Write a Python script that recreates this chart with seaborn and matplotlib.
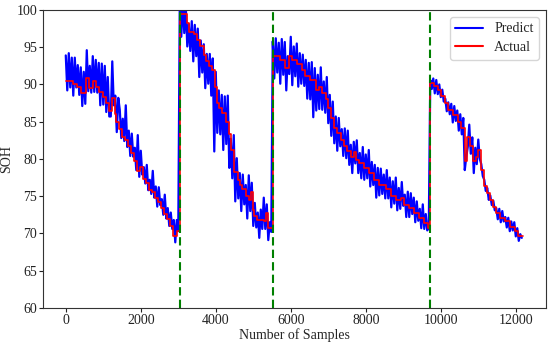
import numpy as np
import pandas as pd
import matplotlib
matplotlib.use("Agg")
import matplotlib.pyplot as plt
import seaborn as sns

# ---------------- data ----------------
segment_starts = [0, 3040, 5520, 9720]
segment_end = 12200
sample_step = 40

# actual SOH (step function): start sample of each step and its value
step_starts = [
    0, 180, 310, 400, 540, 625, 715, 805, 895, 985, 1070, 1160, 1220, 1300, 1350,
    1420, 1500, 1580, 1660, 1740, 1820, 1900, 1980, 2060, 2140, 2220, 2300, 2380,
    2460, 2540, 2620, 2700, 2780, 2860, 2960,
    3040, 3230, 3280, 3410, 3500, 3590, 3680, 3740, 3810, 3900, 3990, 4040, 4080,
    4170, 4260, 4350, 4400, 4490, 4580, 4640, 4710, 4800, 4890, 4930, 4980, 5020,
    5110, 5290, 5340, 5380,
    5520, 5720, 5850, 5940, 6030, 6170, 6300, 6390, 6520, 6660, 6750, 6820, 6930,
    7000, 7060, 7150, 7240, 7330, 7420, 7510, 7600, 7690, 7730, 7820, 7950, 8090,
    8220, 8360, 8530, 8670, 8800, 8940, 9030, 9160, 9290, 9430, 9560, 9650,
    9720, 9830, 9920, 10010, 10100, 10190, 10320, 10460, 10550, 10640, 10700,
    10790, 10860, 10950, 10990, 11080, 11140, 11220, 11300, 11390, 11480, 11570,
    11710, 11840, 11980, 12060,
]
step_values = [
    90.4, 90.0, 89.6, 88.9, 90.9, 89.5, 90.5, 89.7, 89.0, 88.3, 87.5, 86.5, 88.2, 86.0, 85.0,
    84.0, 83.0, 82.6, 81.8, 80.8, 79.7, 78.4, 78.9, 77.3, 76.8, 75.8, 75.6, 74.8,
    74.2, 73.4, 72.6, 72.0, 71.0, 69.6, 70.3,
    99.4, 98.3, 97.1, 96.8, 96.0, 95.1, 94.0, 93.1, 92.5, 92.0, 89.7, 87.5, 86.8,
    86.2, 85.0, 83.3, 81.2, 78.3, 77.2, 76.5, 75.9, 75.0, 74.5, 75.6, 73.2, 72.3,
    71.8, 71.6, 72.7, 70.7,
    93.8, 93.3, 92.2, 93.8, 93.3, 92.7, 92.0, 91.1, 90.6, 89.3, 89.7, 88.8, 88.0,
    86.8, 85.5, 84.1, 83.5, 82.6, 81.7, 81.0, 80.3, 80.9, 79.9, 79.4, 78.8, 78.1,
    77.2, 76.5, 75.9, 75.0, 74.5, 74.7, 73.8, 73.4, 72.7, 72.1, 71.4, 70.7,
    90.2, 89.8, 89.3, 88.4, 87.5, 86.6, 85.9, 85.0, 84.1, 79.7, 83.0,
    81.7, 79.7, 80.3, 81.2, 78.5, 76.3, 75.4, 74.5, 73.6, 72.7, 72.1,
    71.6, 70.9, 70.3, 69.6,
]

# prediction minus actual, read every 40 samples, per battery segment
residual_seg1 = [
    3.5, -1.2, 3.8, -0.8, 3.2, -1.5, 3.6, -0.4, 3.0, -1.0,
    3.4, -1.8, 2.8, -1.5, 3.7, -1.8, 3.0, -0.6, 3.3,
    -1.5, 2.8, -0.8, 3.2, -1.8, 3.8, -1.0, 4.2, -1.2, 3.5, -0.8,
    -0.8, 4.9, -1.0, 2.5, -1.4, 3.2, 2.6,
    -1.2, 2.4, -0.6, 4.6, -1.0, 2.0, -1.4, 2.6, -0.5, 1.8, -1.2, 4.8, -0.8, 2.2,
    -1.0, 1.6, -0.6, 2.4, -1.0, 1.4, -0.5, 2.8, -0.8, 1.5, -1.2, 2.0, -0.4, 1.2,
    -0.9, 2.6, -0.6, 1.4, -1.0, 1.8, -0.4, 2.2, -0.8, 1.5, 0.0,
]
residual_seg2 = [
    1.5, -3.0, 1.8, -2.5, 1.2, -3.2, 1.0, -2.6, 1.4,
    -4.0, 1.2, -3.0, 1.5, -5.0, 0.8, -3.5, 1.4, -4.5, 1.0, -3.0, 1.6, -4.0,
    1.5, -11.0, 2.0, -4.0, 2.4, -3.5, 1.8, -5.0, 2.2, -3.0, 3.5, -4.5, 1.5, -3.8, 2.0, -4.0, 1.8,
    -2.5, 1.6, -3.5, 2.0, -2.0, 1.5, -3.0, 2.8, -1.5, 1.2, -2.2, 1.8, -1.5, 1.0,
    -2.4, 1.4, -1.2, 3.0, -1.0, 1.2, -1.6, 0.8, -0.5,
]
residual_seg3 = [
    2.0, -3.0, 2.4, -2.2, 1.8, -3.2, 2.8, -2.0, 2.4, -3.0, 1.6, -2.4, 2.6, -3.4,
    1.8, -2.2, 2.2, -3.0, 1.5, -2.6, 2.0, -2.2,
    2.2, -3.0, 1.8, -2.6, 2.4, -5.0, 1.6, -2.8, 2.0, -3.0, 2.6, -2.2, 1.6, -2.6,
    3.0, -2.0, 1.8, -2.4,
    2.2, -2.0, 1.6, -2.4, 2.0, -1.8, 1.4, -2.2, 2.4, -1.6, 2.8, -1.8, 1.6, -2.2,
    2.0, -1.5, 2.6, -1.8, 1.4, -2.0, 2.2, -1.6, 1.8, -1.4, 2.4, -1.8, 1.5,
    -1.6, 2.0, -2.4, 1.6, -1.4, 2.2, -1.2, 1.4, -1.8, 2.6, -1.2, 1.6, -1.5, 2.0,
    -1.0, 3.0, -1.4, 1.6, -1.2, 2.2, -1.0, 1.4, -1.6, 1.8, -1.2, 2.0, -0.8, 1.4,
    -1.2, 1.6, -1.0, 1.2, -1.4, 1.8, -0.8, 1.2, -1.0, 0.2,
]
residual_seg4 = [
    0.4, -0.8, 0.6, -1.0, 0.8, -0.6, 0.7, -1.0, 0.9, -0.7, 0.6, -1.1, 1.0, -0.6,
    0.8, -1.0, 1.2, -0.8, 0.6, -1.2,
    1.0, -0.8, 1.4, -1.2, 0.6, -1.4, 1.6, -1.0, 1.2, -1.6, 1.8, -1.0, 1.4, -1.2,
    0.8, -0.8, 0.9, -0.6, 0.7, -0.9, 0.6, -0.7, 0.8, -0.5, 0.7, -0.8, 0.6, -0.6,
    0.9, -0.5, 0.6, -0.8, 0.5, -0.6, 0.7, -0.5, 0.6, -0.7, 0.4, -0.6, 0.3, -0.2,
]

# ---------------- build tables ----------------
residuals = [residual_seg1, residual_seg2, residual_seg3, residual_seg4]
pred_x, pred_res = [], []
for s, res in zip(segment_starts, residuals):
    pred_x.extend(s + sample_step * np.arange(len(res)))
    pred_res.extend(res)
pred_x = np.array(pred_x)
idx = np.searchsorted(step_starts, pred_x, side="right") - 1
pred_y = np.array(step_values)[idx] + np.array(pred_res)
pred_df = pd.DataFrame({"x": pred_x, "y": pred_y})

act_df = pd.DataFrame({"x": step_starts + [segment_end],
                       "y": step_values + [step_values[-1]]})

# ---------------- plot ----------------
sns.set_theme(style="ticks")
plt.rcParams["font.family"] = ["Liberation Serif", "DejaVu Serif"]

fig = plt.figure(figsize=(5.5, 3.44), dpi=100)
ax = fig.add_axes([0.078, 0.105, 0.915, 0.866])

sns.lineplot(data=pred_df, x="x", y="y", ax=ax, color="#0000ff",
             linewidth=1.6, label="Predict", estimator=None, sort=False)
sns.lineplot(data=act_df, x="x", y="y", ax=ax, color="#ff0000",
             linewidth=1.2, label="Actual", estimator=None, sort=False,
             drawstyle="steps-post")

for b in segment_starts[1:]:
    ax.axvline(b, color="green", linestyle="--", linewidth=1.5, dashes=(4, 2))

ax.set_ylim(60, 100)
ax.set_xticks([0, 2000, 4000, 6000, 8000, 10000, 12000])
ax.set_yticks([60, 65, 70, 75, 80, 85, 90, 95, 100])
ax.set_xlabel("Number of Samples", fontsize=10, labelpad=1)
ax.set_ylabel("SOH", fontsize=10, labelpad=2)
ax.tick_params(labelsize=10, length=3, width=0.8, colors="#222222", pad=1.2)
for sp in ax.spines.values():
    sp.set_visible(True)
    sp.set_linewidth(0.8)
    sp.set_color("#333333")

leg = ax.legend(loc="upper right", fontsize=10, frameon=True, fancybox=True,
                handlelength=2.0, borderpad=0.4, labelspacing=0.4)
leg.get_frame().set_edgecolor("#cccccc")
for line in leg.get_lines():
    line.set_linewidth(1.5)

fig.savefig("out.png", dpi=100)
